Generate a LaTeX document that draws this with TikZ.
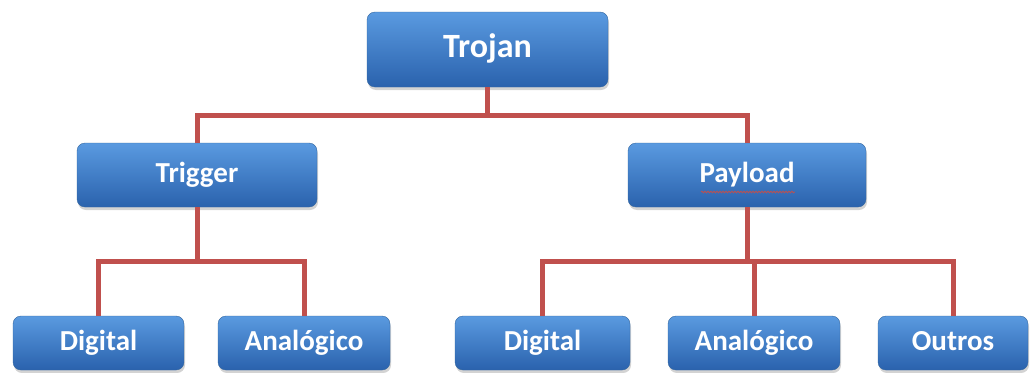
\documentclass[tikz,border=0pt]{standalone}
\usepackage{fontspec}
\setmainfont{Carlito}
\usetikzlibrary{calc,shadows,decorations.pathmorphing}

\definecolor{boxtop}{HTML}{5A9AE0}
\definecolor{boxbot}{HTML}{2A62AD}
\definecolor{boxedge}{HTML}{33669F}
\definecolor{linkred}{HTML}{C0504D}

\begin{document}
\begin{tikzpicture}[x=1pt, y=-1pt, every node/.style={rectangle, rounded corners=8pt, draw=boxedge, top color=boxtop, bottom color=boxbot, text=white, inner sep=0pt, text height=20pt, text depth=6pt, font=\fontsize{29}{30}\selectfont\bfseries, drop shadow={opacity=0.35, shadow xshift=1pt, shadow yshift=-3pt}}, link/.style={line width=5pt, linkred}]

    \useasboundingbox (0,0) rectangle (1033,372);

    % Nodes
    \node[minimum width=241pt, minimum height=75pt, font=\fontsize{34}{36}\selectfont\bfseries, text height=23pt, text depth=7pt] (trojan) at (487.5,49.5) {Trojan};

    \node[minimum width=240pt, minimum height=64pt] (trigger) at (197,175) {Trigger};
    \node[minimum width=238pt, minimum height=64pt] (payload) at (747,175) {Payload};

    \node[minimum width=171pt, minimum height=54pt] (tdig) at (98.5,343) {Digital};
    \node[minimum width=172pt, minimum height=54pt] (tana) at (304,343) {Analógico};

    \node[minimum width=175pt, minimum height=54pt] (pdig) at (542.5,343) {Digital};
    \node[minimum width=172pt, minimum height=54pt] (pana) at (754,343) {Analógico};
    \node[minimum width=150pt, minimum height=54pt] (pout) at (953,343) {Outros};

    % Spell-check underline under Payload
    \coordinate (wl) at ($(payload.center)+(-46,17)$);
    \coordinate (wr) at ($(payload.center)+(48,17)$);
    \draw[linkred, line width=0.8pt, decorate, decoration={snake, amplitude=0.8pt, segment length=3pt}] (wl) -- (wr);

    % Edges
    \coordinate (j1) at ($(trojan.south)!0.5!(trojan.south |- trigger.north)$);
    \draw[link] (trojan.south) -- (j1);
    \draw[link] (j1) -| (trigger.north);
    \draw[link] (j1) -| (payload.north);

    \coordinate (j2) at ($(trigger.south)!0.5!(trigger.south |- tdig.north)$);
    \draw[link] (trigger.south) -- (j2);
    \draw[link] (j2) -| (tdig.north);
    \draw[link] (j2) -| (tana.north);

    \coordinate (j3) at ($(payload.south)!0.5!(payload.south |- pdig.north)$);
    \draw[link] (payload.south) -- (j3);
    \draw[link] (j3) -| (pdig.north);
    \draw[link] (j3) -| (pana.north);
    \draw[link] (j3) -| (pout.north);

\end{tikzpicture}
\end{document}
